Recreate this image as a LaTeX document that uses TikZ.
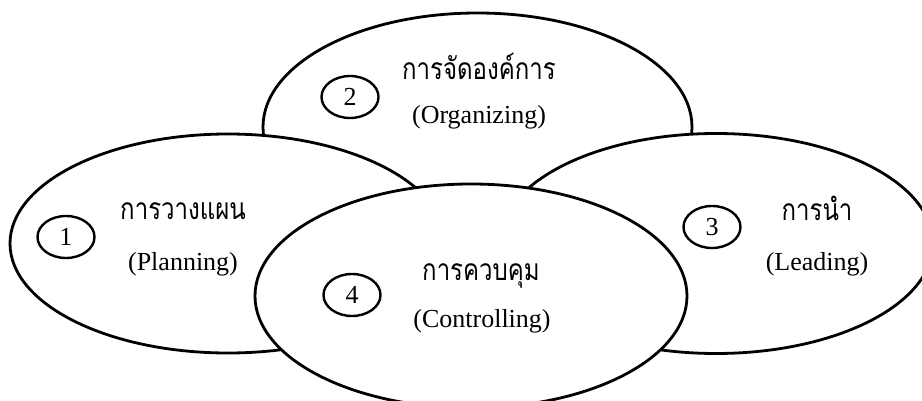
\documentclass[tikz,border=0pt]{standalone}
\usepackage{fontspec}
\setmainfont{Liberation Serif}
\newfontfamily\thaifont[Script=Thai,FakeStretch=0.8]{Loma}
\usetikzlibrary{shapes.geometric}
\begin{document}
\begin{tikzpicture}[x=1pt,y=-1pt,
  area/.style={draw=black, fill=white, ellipse, line width=2.8pt, inner sep=0pt},
  badge/.style={draw=black, fill=white, ellipse, line width=2.4pt,
    minimum width=57pt, minimum height=42pt, inner sep=0pt,
    font=\fontsize{26}{26}\selectfont},
  thai/.style={anchor=base, inner sep=0pt, font=\thaifont\fontsize{30}{30}\selectfont},
  eng/.style={anchor=base, inner sep=0pt, font=\fontsize{26}{26}\selectfont}]
\useasboundingbox (0,0) rectangle (922,401);
\begin{scope}
\clip (0,0) rectangle (922,401);
% the four overlapping areas, back to front
\node[area, minimum width=429pt, minimum height=228pt] (org) at (477.5,127) {};
\node[area, minimum width=436pt, minimum height=219pt] (plan) at (228,243.5) {};
\node[area, minimum width=434pt, minimum height=220pt] (lead) at (716,243.5) {};
\node[area, minimum width=432pt, minimum height=224pt] (ctrl) at (471,296) {};
\end{scope}

% 2 - organizing
\node[badge] (n2) at (350,97) {2};
\node[thai] (t2) at (479,80) {การจัดองค์การ};
\node[eng] (e2) at (479,124) {(Organizing)};

% 1 - planning
\node[badge] (n1) at (66,237) {1};
\node[thai] (t1) at (183,220) {การวางแผน};
\node[eng] (e1) at (183,270) {(Planning)};

% 3 - leading
\node[badge] (n3) at (712,227) {3};
\node[thai] (t3) at (817,221) {การนำ};
\node[eng] (e3) at (817,270) {(Leading)};

% 4 - controlling
\node[badge] (n4) at (352,295) {4};
\node[thai] (t4) at (481,280) {การควบคุม};
\node[eng] (e4) at (482,327) {(Controlling)};
\end{tikzpicture}
\end{document}
